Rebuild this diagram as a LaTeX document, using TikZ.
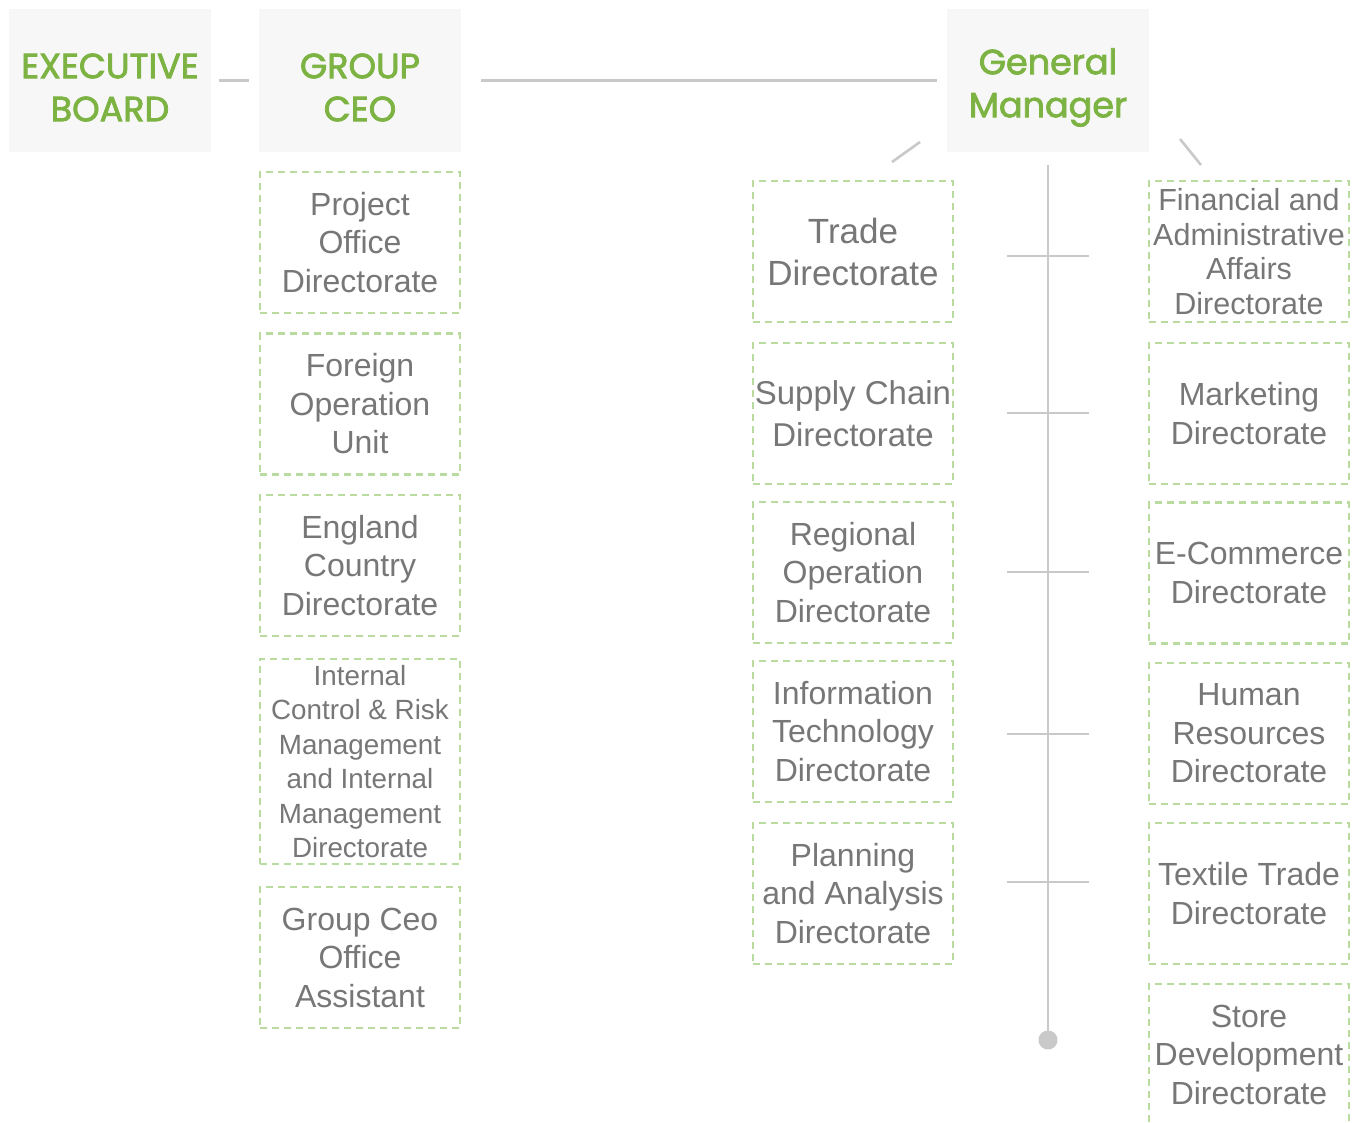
\documentclass[tikz,border=0pt]{standalone}
\usepackage{fontspec}
\setmainfont{Liberation Sans}
\newfontfamily\hdrfont{Poppins}[FakeBold=2.2]
\definecolor{grn}{HTML}{7CB342}
\definecolor{dashgrn}{HTML}{B9DB9F}
\definecolor{txtgray}{HTML}{777777}
\definecolor{hdrbg}{HTML}{F7F7F7}
\definecolor{linegray}{HTML}{C9C9C9}
\begin{document}
\begin{tikzpicture}[x=1pt,y=-1pt,
  hdr/.style={fill=hdrbg, inner sep=0pt, minimum width=202pt, minimum height=143pt},
  hdrtext/.style={text=grn, align=center, inner sep=0pt,
    font=\hdrfont\fontsize{35}{43}\selectfont},
  unitbox/.style={draw=dashgrn, line width=2.4pt, dash pattern=on 7pt off 5pt,
    inner sep=0pt, minimum width=200pt, minimum height=141pt, text=txtgray,
    align=center, font=\fontsize{32}{38.5}\selectfont},
  big/.style={font=\fontsize{35}{42}\selectfont},
  mid/.style={font=\fontsize{33}{41.5}\selectfont},
  small/.style={font=\fontsize{27.8}{34.5}\selectfont},
  tight/.style={font=\fontsize{30.5}{34.5}\selectfont},
  link/.style={draw=linegray, line width=2.6pt}]
\clip (0,0) rectangle (1360,1122);
\fill[white] (0,0) rectangle (1360,1122);

% header boxes and their titles
\node[hdr] (exec) at (110,80.5) {};
\node[hdr] (ceo)  at (360,80.5) {};
\node[hdr] (gm)   at (1048,80.5) {};
\node[hdrtext] (exect) at ([yshift=-7pt]exec.center) {EXECUTIVE\\BOARD};
\node[hdrtext] (ceot)  at ([yshift=-7pt]ceo.center) {GROUP\\CEO};
\node[hdrtext] (gmt)   at ([yshift=-7pt]gm.center) {General\\Manager};

% units under the group CEO
\node[unitbox] (pod) at (360,242.5) {Project\\Office\\Directorate};
\node[unitbox] (fou) at (360,404) {Foreign\\Operation\\Unit};
\node[unitbox] (ecd) at (360,565.5) {England\\Country\\Directorate};
\node[unitbox, minimum height=205pt, small] (icr) at (360,761.5)
  {Internal\\Control \& Risk\\Management\\and Internal\\Management\\Directorate};
\node[unitbox] (gco) at (360,957.5) {Group Ceo\\Office\\Assistant};

% units under the general manager, left column
\node[unitbox, big] (trd) at (853,251.5) {Trade\\Directorate};
\node[unitbox, mid] (scd) at (853,413.5) {Supply Chain\\Directorate};
\node[unitbox] (rod) at (853,572.5) {Regional\\Operation\\Directorate};
\node[unitbox] (itd) at (853,731.5) {Information\\Technology\\Directorate};
\node[unitbox] (pad) at (853,893.5) {Planning\\and Analysis\\Directorate};

% units under the general manager, right column
\node[unitbox, tight] (faa) at (1249,251.5) {Financial and\\Administrative\\Affairs\\Directorate};
\node[unitbox] (mkt) at (1249,413.5) {Marketing\\Directorate};
\node[unitbox] (ecm) at (1249,573) {E-Commerce\\Directorate};
\node[unitbox] (hrd) at (1249,733.5) {Human\\Resources\\Directorate};
\node[unitbox] (ttd) at (1249,893.5) {Textile Trade\\Directorate};
\node[unitbox] (sdd) at (1249,1054.5) {Store\\Development\\Directorate};

% connectors between the headers
\draw[link] ([xshift=8pt]exec.east) -- ([xshift=-10pt]ceo.west);
\draw[link] ([xshift=20pt]ceo.east) -- ([xshift=-10pt]gm.west);

% short strokes from the general manager
\coordinate (dl1) at (920,142);
\coordinate (dl2) at (892,162);
\coordinate (dr1) at (1180,139);
\coordinate (dr2) at (1201,165);
\draw[link] (dl1) -- (dl2);
\draw[link] (dr1) -- (dr2);

% spine with ticks
\coordinate (spinetop) at (1048,165);
\node[circle, fill=linegray, inner sep=0pt, minimum size=19pt] (spineend) at (1048,1040) {};
\draw[link] (spinetop) -- (spineend.center);
\foreach \y in {256,413,572,734,882}
  \draw[link] (1007,\y) -- (1089,\y);
\end{tikzpicture}
\end{document}
